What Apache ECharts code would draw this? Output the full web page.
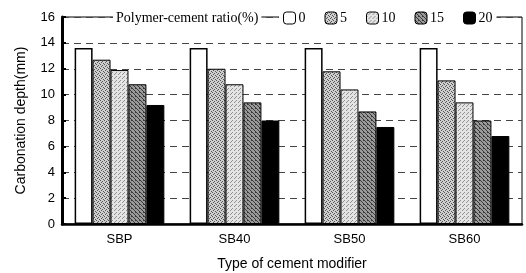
<!DOCTYPE html>
<html>
<head>
<meta charset="utf-8">
<script src="https://cdn.jsdelivr.net/npm/echarts@6/dist/echarts.min.js"></script>
<style>
  html, body { margin: 0; padding: 0; background: #fff; }
  #chart { width: 526px; height: 273px; }
</style>
</head>
<body>
<div id="chart"></div>
<script>
const categories = ['SBP', 'SB40', 'SB50', 'SB60']
const ratios = ['0', '5', '10', '15', '20']
const ratio0 = [13.6, 13.6, 13.6, 13.6]
const ratio5 = [12.7, 12.0, 11.8, 11.1]
const ratio10 = [11.9, 10.8, 10.4, 9.4]
const ratio15 = [10.8, 9.4, 8.7, 8.0]
const ratio20 = [9.2, 8.0, 7.5, 6.8]
const yTicks = [0, 2, 4, 6, 8, 10, 12, 14, 16]

// small canvas patterns to mimic the printed halftone fills
function pattern(size, draw) {
  const c = document.createElement('canvas')
  c.width = c.height = size
  const ctx = c.getContext('2d')
  draw(ctx, size)
  return { image: c, repeat: 'repeat' }
}

const fills = [
  '#ffffff',
  pattern(4, (ctx) => {
    ctx.fillStyle = '#cfcfcf'; ctx.fillRect(0, 0, 4, 4)
    ctx.fillStyle = '#555'
    ;[[0, 0], [2, 1], [1, 2], [3, 3]].forEach(([x, y]) => ctx.fillRect(x, y, 1, 1))
  }),
  pattern(4, (ctx) => {
    ctx.fillStyle = '#e4e4e4'; ctx.fillRect(0, 0, 4, 4)
    ctx.fillStyle = '#909090'
    ;[[0, 0], [2, 2], [3, 1]].forEach(([x, y]) => ctx.fillRect(x, y, 1, 1))
  }),
  pattern(4, (ctx) => {
    ctx.fillStyle = '#9a9a9a'; ctx.fillRect(0, 0, 4, 4)
    ctx.fillStyle = '#3a3a3a'
    for (let i = 0; i < 4; i++) ctx.fillRect(i, i, 1, 1)
    ctx.fillRect(3, 0, 1, 1)
  }),
  '#000000'
]

const values = [ratio0, ratio5, ratio10, ratio15, ratio20]

const chart = echarts.init(document.getElementById('chart'))

chart.setOption({
  animation: false,
  textStyle: { fontFamily: 'Liberation Sans, Arial, sans-serif', color: '#000' },
  grid: {
    left: 62, right: 4, top: 17, bottom: 49,
    outerBoundsMode: 'none',
    show: true, borderColor: '#000', borderWidth: 1
  },
  legend: {
    data: ratios,
    left: 279, top: 10, z: 50,
    itemWidth: 12, itemHeight: 12, itemGap: 19,
    backgroundColor: '#fff',
    padding: [1, 4, 1, 4],
    textStyle: { fontFamily: 'Liberation Serif, Times New Roman, serif', fontSize: 14, color: '#000', padding: [0, 0, 0, -2] },
    itemStyle: { borderColor: '#000', borderWidth: 1 }
  },
  graphic: [{
    type: 'text',
    left: 113, top: 10, z: 50,
    style: {
      text: 'Polymer-cement ratio(%)',
      font: '14px "Liberation Serif", serif',
      fill: '#000',
      backgroundColor: '#fff',
      padding: [1, 3, 1, 3]
    }
  }],
  xAxis: {
    type: 'category',
    data: categories,
    name: 'Type of cement modifier',
    nameLocation: 'middle',
    nameGap: 33,
    nameTextStyle: { fontSize: 14, color: '#000' },
    axisLine: { lineStyle: { color: '#000', width: 2.5 } },
    axisTick: { inside: true, length: 4, lineStyle: { color: '#000', width: 2 } },
    axisLabel: { fontSize: 13, color: '#000', margin: 9 }
  },
  yAxis: {
    type: 'value',
    min: yTicks[0], max: yTicks[yTicks.length - 1], interval: 2,
    name: 'Carbonation depth(mm)',
    nameLocation: 'middle',
    nameGap: 34,
    nameTextStyle: { fontSize: 14, color: '#000' },
    axisLine: { show: true, lineStyle: { color: '#000', width: 3 } },
    axisTick: { show: true, inside: true, length: 4, lineStyle: { color: '#000', width: 2 } },
    axisLabel: { fontSize: 13, color: '#000', margin: 7 },
    splitLine: { show: true, lineStyle: { color: '#444', type: [7, 5], width: 1 } }
  },
  series: ratios.map((r, i) => ({
    name: r,
    type: 'bar',
    data: values[i],
    barGap: '0%',
    barCategoryGap: '22%',
    itemStyle: { color: fills[i], borderColor: '#000', borderWidth: i === 0 ? 1.5 : 1 }
  }))
})
</script>
</body>
</html>
